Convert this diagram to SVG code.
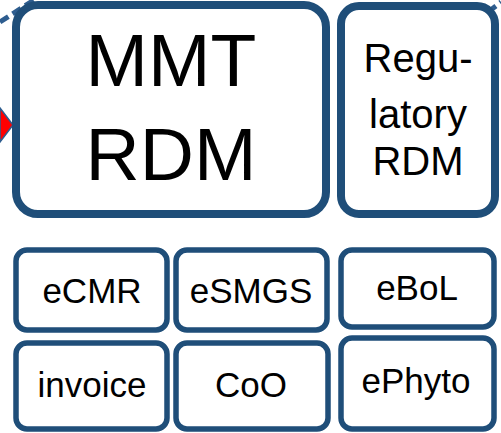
<svg xmlns="http://www.w3.org/2000/svg" width="501" height="433" viewBox="0 0 501 433">
<style>
.big{fill:#fff;stroke:#1f4e79;stroke-width:8}
.sm{fill:#fff;stroke:#1f4e79;stroke-width:5.5}
text{font-family:"Liberation Sans",Arial,sans-serif;fill:#000;text-anchor:middle}
.conn{fill:none;stroke:#2e5d8f;stroke-width:5;stroke-dasharray:10 5}
</style>
<g id="connectors">
<line class="conn" x1="0" y1="22" x2="34" y2="0"/>
<line class="conn" x1="488" y1="12" x2="501" y2="2"/>
<polygon points="0,108 13,125 0,142" fill="#ff0000" stroke="#2e5d8f" stroke-width="1.5"/>
</g>
<g id="mmt-rdm">
<rect class="big" x="16" y="5" width="310" height="209" rx="22"/>
<text x="171" y="86" font-size="75">MMT</text>
<text x="171" y="180" font-size="75">RDM</text>
</g>
<g id="regulatory-rdm">
<rect class="big" x="341" y="6" width="154" height="208" rx="18"/>
<text x="418" y="72" font-size="40">Regu-</text>
<text x="418" y="128" font-size="40">latory</text>
<text x="418" y="175" font-size="40">RDM</text>
</g>
<g id="ecmr">
<rect class="sm" x="16" y="250" width="151" height="80" rx="11"/>
<text x="92" y="303" font-size="35">eCMR</text>
</g>
<g id="esmgs">
<rect class="sm" x="176" y="250" width="151" height="80" rx="11"/>
<text x="251" y="303" font-size="35">eSMGS</text>
</g>
<g id="ebol">
<rect class="sm" x="341" y="250" width="153" height="77" rx="11"/>
<text x="417" y="300" font-size="35">eBoL</text>
</g>
<g id="invoice">
<rect class="sm" x="16" y="343" width="151" height="86" rx="11"/>
<text x="92" y="397" font-size="35">invoice</text>
</g>
<g id="coo">
<rect class="sm" x="176" y="343" width="152" height="86" rx="11"/>
<text x="251" y="397" font-size="35">CoO</text>
</g>
<g id="ephyto">
<rect class="sm" x="341" y="338" width="153" height="91" rx="11"/>
<text x="416" y="393" font-size="35">ePhyto</text>
</g>
</svg>
